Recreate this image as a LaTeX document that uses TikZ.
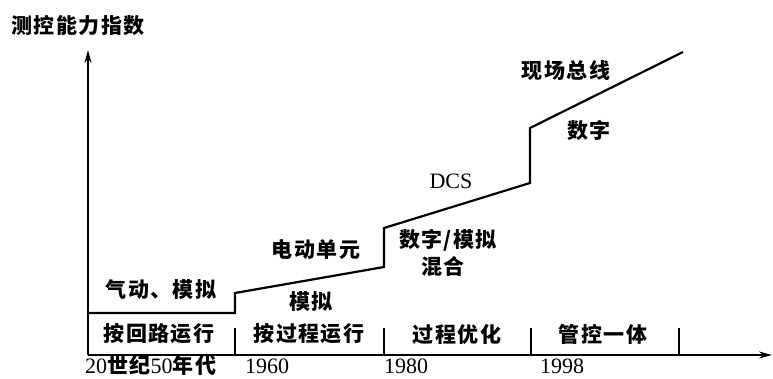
\documentclass[tikz,border=0pt]{standalone}
\usepackage{fontspec}
\setmainfont{Liberation Serif}
\newfontfamily\cjk{Noto Sans CJK SC}[LetterSpace=7]
\usetikzlibrary{arrows.meta}
\tikzset{
  axis/.style={line width=1.8pt,-{Stealth[length=13pt,width=7pt]}},
  curve/.style={line width=2.2pt,line join=miter},
  tick/.style={line width=1.5pt},
  zh/.style={font=\cjk\bfseries\fontsize{21}{24}\selectfont,inner sep=0pt},
  num/.style={font=\fontsize{22}{25}\selectfont,inner sep=0pt},
}
\begin{document}
\begin{tikzpicture}[x=1pt,y=-1pt]
\useasboundingbox (0,0) rectangle (773,378);
\coordinate (O) at (88,355);
\coordinate (ytip) at (88,50);
\coordinate (xtip) at (772,355);
\draw[axis] (O) -- (ytip);
\draw[axis] (O) -- (xtip);
% step curve
\coordinate (p0) at (88,313);
\coordinate (p1) at (235,313);
\coordinate (p2) at (235,293);
\coordinate (p3) at (384,267);
\coordinate (p4) at (384,228);
\coordinate (p5) at (530,183);
\coordinate (p6) at (530,128);
\coordinate (p7) at (683,52);
\draw[curve] (p0) -- (p1) -- (p2) -- (p3) -- (p4) -- (p5) -- (p6) -- (p7);
% ticks
\foreach \i/\x in {a/235,b/384,c/531,d/679}{
  \coordinate (t\i1) at (\x,328);
  \coordinate (t\i2) at (\x,354);
  \draw[tick] (t\i1) -- (t\i2);
}
% labels
\node[zh] (ylab) at (78,26) {测控能力指数};
\node[zh] (l1) at (161,290) {气动、模拟};
\node[zh] (l2) at (311,302) {模拟};
\node[zh] (l3) at (316,250) {电动单元};
\node[zh] (l4) at (448,240) {数字/模拟};
\node[zh] (l5) at (443,266) {混合};
\node[num] (l6) at (451,181) {DCS};
\node[zh] (l7) at (589,130) {数字};
\node[zh] (l8) at (566,70) {现场总线};
\node[zh] (s1) at (159,334) {按回路运行};
\node[zh] (s2) at (309,334) {按过程运行};
\node[zh] (s3) at (457,334) {过程优化};
\node[zh] (s4) at (603,334) {管控一体};
\node[num,anchor=base west] (d1) at (85,373) {20{\cjk\bfseries\fontsize{21}{24}\selectfont 世纪}50{\cjk\bfseries\fontsize{21}{24}\selectfont 年代}};
\node[num,anchor=base] (d2) at (267,373) {1960};
\node[num,anchor=base] (d3) at (406,373) {1980};
\node[num,anchor=base] (d4) at (562,373) {1998};
\end{tikzpicture}
\end{document}
